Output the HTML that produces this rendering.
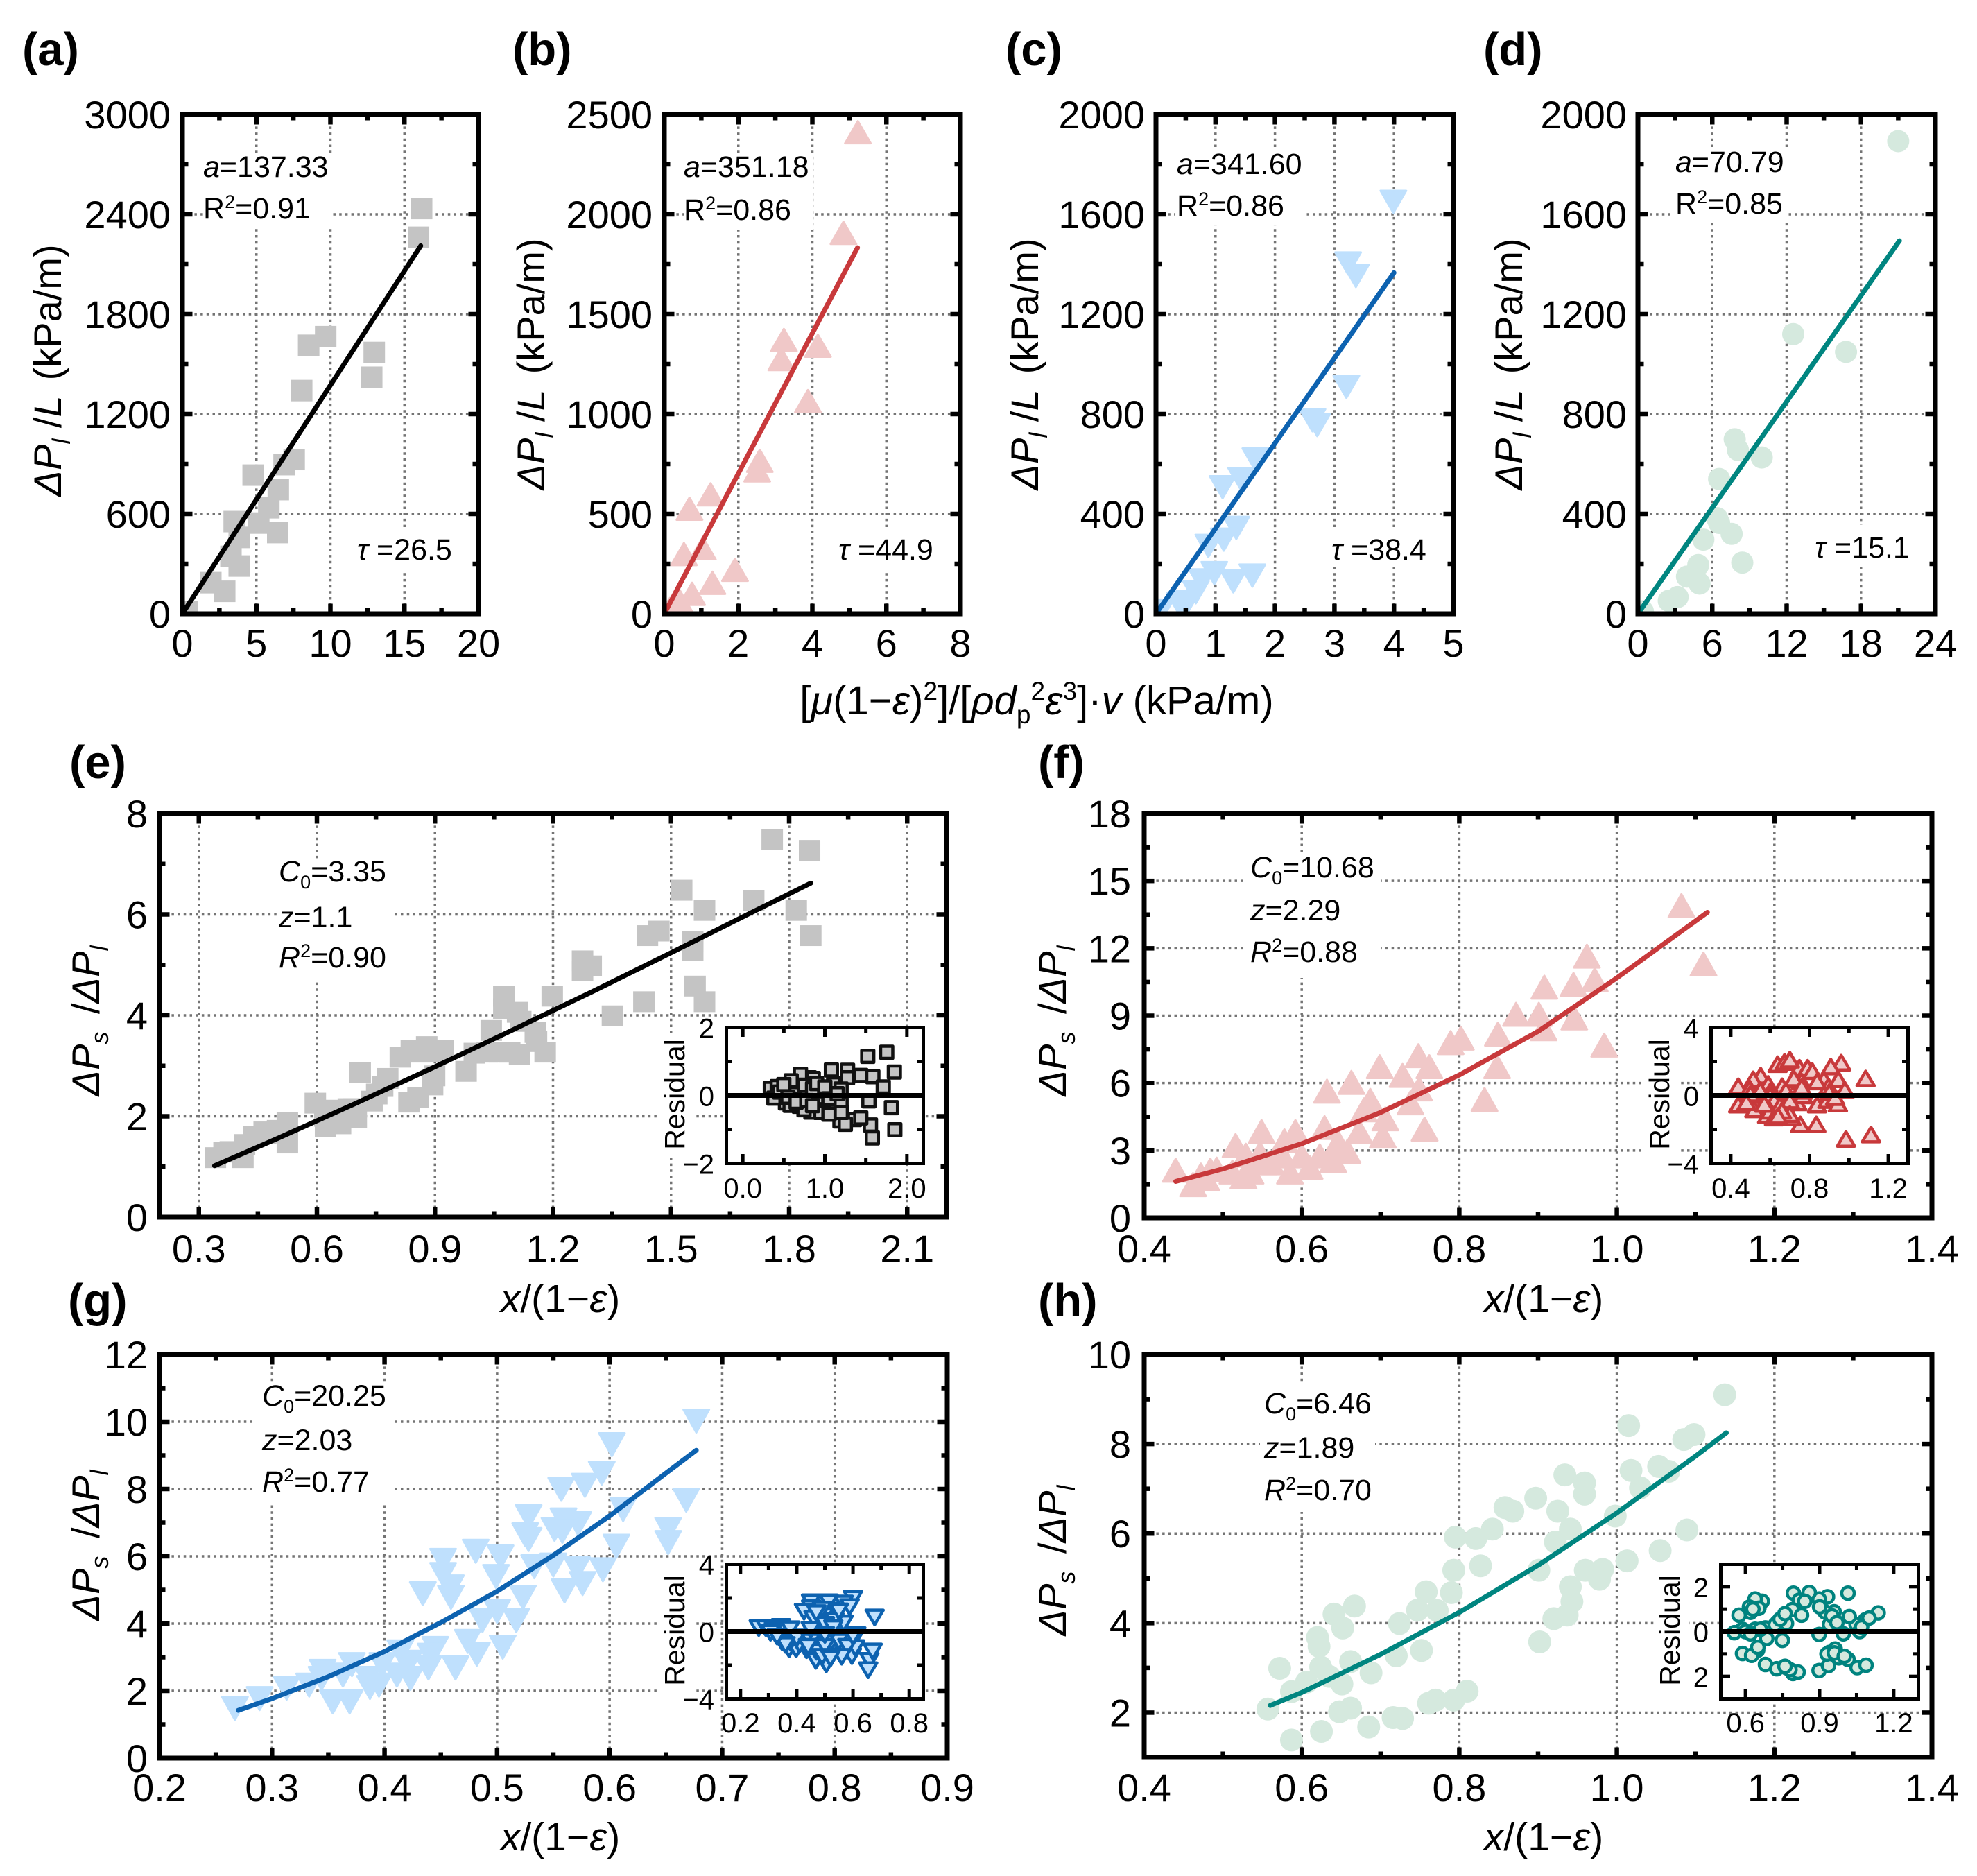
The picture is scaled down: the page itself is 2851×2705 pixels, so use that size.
<!DOCTYPE html>
<html lang="en">
<head>
<meta charset="utf-8">
<title>Pressure drop fits</title>
<style>
html,body{margin:0;padding:0;background:#fff;}
svg{display:block;font-family:"Liberation Sans",Arial,sans-serif;}
.pl{font-weight:bold;font-size:67px;}
.ti{font-size:56px;}
.an{font-size:43px;}
.re{font-size:41px;}
.it{font-style:italic;}
</style>
</head>
<body>
<svg id="figure" xmlns="http://www.w3.org/2000/svg" width="2851" height="2705" viewBox="0 0 2851 2705">
<rect width="2851" height="2705" fill="#fff"/>

<text class="pl" x="32" y="94">(a)</text>
<text class="pl" x="739" y="94">(b)</text>
<text class="pl" x="1450" y="94">(c)</text>
<text class="pl" x="2139" y="94">(d)</text>
<text class="pl" x="100" y="1122">(e)</text>
<text class="pl" x="1497" y="1122">(f)</text>
<text class="pl" x="98" y="1898">(g)</text>
<text class="pl" x="1497" y="1898">(h)</text>

<!-- Panel a -->
<g id="a-plot"></g>
<rect x="293" y="224" width="187" height="106" fill="#fff"/>
<rect x="510" y="760" width="147" height="60" fill="#fff"/>
<text class="an" x="293" y="255"><tspan class="it">a</tspan>=137.33</text>
<text class="an" x="293" y="315">R<tspan font-size="27" dy="-15">2</tspan><tspan dy="15">=0.91</tspan></text>
<text class="an" x="515" y="807"><tspan class="it">τ</tspan> =26.5</text>
<text class="ti" transform="translate(88,534) rotate(-90)" text-anchor="middle"><tspan class="it">ΔP</tspan><tspan class="it" font-size="36" dy="13">l</tspan><tspan dy="-13"> /</tspan><tspan class="it">L</tspan><tspan dx="22">(kPa/m)</tspan></text>

<!-- Panel b -->
<g id="b-plot"></g>
<rect x="987" y="224" width="185" height="107" fill="#fff"/>
<rect x="1205" y="760" width="145" height="60" fill="#fff"/>
<text class="an" x="986" y="255"><tspan class="it">a</tspan>=351.18</text>
<text class="an" x="986" y="317">R<tspan font-size="27" dy="-15">2</tspan><tspan dy="15">=0.86</tspan></text>
<text class="an" x="1209" y="807"><tspan class="it">τ</tspan> =44.9</text>
<text class="ti" transform="translate(785,525) rotate(-90)" text-anchor="middle"><tspan class="it">ΔP</tspan><tspan class="it" font-size="36" dy="13">l</tspan><tspan dy="-13"> /</tspan><tspan class="it">L</tspan><tspan dx="22">(kPa/m)</tspan></text>

<!-- Panel c -->
<g id="c-plot"></g>
<rect x="1695" y="215" width="188" height="110" fill="#fff"/>
<rect x="1915" y="760" width="150" height="56" fill="#fff"/>
<text class="an" x="1697" y="251"><tspan class="it">a</tspan>=341.60</text>
<text class="an" x="1697" y="311">R<tspan font-size="27" dy="-15">2</tspan><tspan dy="15">=0.86</tspan></text>
<text class="an" x="1920" y="807"><tspan class="it">τ</tspan> =38.4</text>
<text class="ti" transform="translate(1497,525) rotate(-90)" text-anchor="middle"><tspan class="it">ΔP</tspan><tspan class="it" font-size="36" dy="13">l</tspan><tspan dy="-13"> /</tspan><tspan class="it">L</tspan><tspan dx="22">(kPa/m)</tspan></text>

<!-- Panel d -->
<g id="d-plot"></g>
<rect x="2414" y="212" width="164" height="110" fill="#fff"/>
<rect x="2613" y="757" width="145" height="56" fill="#fff"/>
<text class="an" x="2416" y="248"><tspan class="it">a</tspan>=70.79</text>
<text class="an" x="2416" y="308">R<tspan font-size="27" dy="-15">2</tspan><tspan dy="15">=0.85</tspan></text>
<text class="an" x="2617" y="804"><tspan class="it">τ</tspan> =15.1</text>
<text class="ti" transform="translate(2195,525) rotate(-90)" text-anchor="middle"><tspan class="it">ΔP</tspan><tspan class="it" font-size="36" dy="13">l</tspan><tspan dy="-13"> /</tspan><tspan class="it">L</tspan><tspan dx="22">(kPa/m)</tspan></text>

<text class="ti" x="1495" y="1030" text-anchor="middle" style="font-size:58px">[<tspan class="it">μ</tspan>(1−<tspan class="it">ε</tspan>)<tspan font-size="37" dy="-21">2</tspan><tspan dy="21">]/[</tspan><tspan class="it">ρd</tspan><tspan font-size="37" dy="13">p</tspan><tspan font-size="37" dy="-34">2</tspan><tspan class="it" dy="21">ε</tspan><tspan font-size="37" dy="-21">3</tspan><tspan dy="21">]·</tspan><tspan class="it">v</tspan> (kPa/m)</text>

<!-- Panel e -->
<g id="e-plot"></g>
<rect x="400" y="1240" width="165" height="175" fill="#fff"/>
<text class="an" x="402" y="1271"><tspan class="it">C</tspan><tspan font-size="27" dy="10">0</tspan><tspan dy="-10">=3.35</tspan></text>
<text class="an" x="402" y="1337"><tspan class="it">z</tspan>=1.1</text>
<text class="an" x="402" y="1395"><tspan class="it">R</tspan><tspan font-size="27" dy="-15">2</tspan><tspan dy="15">=0.90</tspan></text>
<text class="ti" transform="translate(143,1472) rotate(-90)" text-anchor="middle"><tspan class="it">ΔP</tspan><tspan class="it" font-size="36" dy="13">s</tspan><tspan dy="-13" dx="10"> /</tspan><tspan class="it">ΔP</tspan><tspan class="it" font-size="36" dy="13">l</tspan></text>
<text class="ti" x="808" y="1892" text-anchor="middle" style="font-size:57px"><tspan class="it">x</tspan>/(1−<tspan class="it">ε</tspan>)</text>
<rect x="950" y="1490" width="50" height="180" fill="#fff"/>
<g id="e-inset"></g>
<text class="re" transform="translate(987,1578) rotate(-90)" text-anchor="middle">Residual</text>

<!-- Panel f -->
<g id="f-plot"></g>
<rect x="1795" y="1230" width="196" height="180" fill="#fff"/>
<text class="an" x="1803" y="1265"><tspan class="it">C</tspan><tspan font-size="27" dy="10">0</tspan><tspan dy="-10">=10.68</tspan></text>
<text class="an" x="1803" y="1327"><tspan class="it">z</tspan>=2.29</text>
<text class="an" x="1803" y="1387"><tspan class="it">R</tspan><tspan font-size="27" dy="-15">2</tspan><tspan dy="15">=0.88</tspan></text>
<text class="ti" transform="translate(1537,1472) rotate(-90)" text-anchor="middle"><tspan class="it">ΔP</tspan><tspan class="it" font-size="36" dy="13">s</tspan><tspan dy="-13" dx="10"> /</tspan><tspan class="it">ΔP</tspan><tspan class="it" font-size="36" dy="13">l</tspan></text>
<text class="ti" x="2226" y="1892" text-anchor="middle" style="font-size:57px"><tspan class="it">x</tspan>/(1−<tspan class="it">ε</tspan>)</text>
<rect x="2370" y="1490" width="50" height="180" fill="#fff"/>
<g id="f-inset"></g>
<text class="re" transform="translate(2407,1578) rotate(-90)" text-anchor="middle">Residual</text>

<!-- Panel g -->
<g id="g-plot"></g>
<rect x="365" y="1995" width="200" height="175" fill="#fff"/>
<text class="an" x="378" y="2027"><tspan class="it">C</tspan><tspan font-size="27" dy="10">0</tspan><tspan dy="-10">=20.25</tspan></text>
<text class="an" x="378" y="2091"><tspan class="it">z</tspan>=2.03</text>
<text class="an" x="378" y="2151"><tspan class="it">R</tspan><tspan font-size="27" dy="-15">2</tspan><tspan dy="15">=0.77</tspan></text>
<text class="ti" transform="translate(143,2228) rotate(-90)" text-anchor="middle"><tspan class="it">ΔP</tspan><tspan class="it" font-size="36" dy="13">s</tspan><tspan dy="-13" dx="10"> /</tspan><tspan class="it">ΔP</tspan><tspan class="it" font-size="36" dy="13">l</tspan></text>
<text class="ti" x="808" y="2668" text-anchor="middle" style="font-size:57px"><tspan class="it">x</tspan>/(1−<tspan class="it">ε</tspan>)</text>
<rect x="950" y="2262" width="50" height="180" fill="#fff"/>
<g id="g-inset"></g>
<text class="re" transform="translate(987,2351) rotate(-90)" text-anchor="middle">Residual</text>

<!-- Panel h -->
<g id="h-plot"></g>
<rect x="1817" y="1992" width="166" height="188" fill="#fff"/>
<text class="an" x="1823" y="2038"><tspan class="it">C</tspan><tspan font-size="27" dy="10">0</tspan><tspan dy="-10">=6.46</tspan></text>
<text class="an" x="1823" y="2102"><tspan class="it">z</tspan>=1.89</text>
<text class="an" x="1823" y="2163"><tspan class="it">R</tspan><tspan font-size="27" dy="-15">2</tspan><tspan dy="15">=0.70</tspan></text>
<text class="ti" transform="translate(1537,2250) rotate(-90)" text-anchor="middle"><tspan class="it">ΔP</tspan><tspan class="it" font-size="36" dy="13">s</tspan><tspan dy="-13" dx="10"> /</tspan><tspan class="it">ΔP</tspan><tspan class="it" font-size="36" dy="13">l</tspan></text>
<text class="ti" x="2226" y="2668" text-anchor="middle" style="font-size:57px"><tspan class="it">x</tspan>/(1−<tspan class="it">ε</tspan>)</text>
<rect x="2385" y="2262" width="50" height="180" fill="#fff"/>
<g id="h-inset"></g>
<text class="re" transform="translate(2422,2351) rotate(-90)" text-anchor="middle">Residual</text>
</svg>

<script>
// ---------- Panel a ----------
const aX = [16.16,15.95,9.68,8.53,8.06,12.96,12.79,7.55,6.87,4.78,6.48,5.84,6.44,5.16,3.50,3.84,3.28,3.84,1.92,2.86,0.34];
const aY = [2435,2262,1665,1613,1341,1570,1421,927,896,833,746,637,488,545,554,459,345,287,187,135,14];
const aFitX = [0,16.1];
const aFitY = [0,2211];
const aXTicks = ['0','5','10','15','20'];
const aYTicks = ['0','600','1200','1800','2400','3000'];

// ---------- Panel b ----------
const bX = [5.23,4.84,3.23,3.16,4.15,3.88,2.58,2.51,1.25,0.68,1.04,0.53,1.91,1.30,0.75,0.41,0.15];
const bY = [2411,1907,1371,1275,1342,1065,766,718,598,526,328,299,220,155,100,65,24];
const bFitX = [0,5.22];
const bFitY = [0,1833];
const bXTicks = ['0','2','4','6','8'];
const bYTicks = ['0','500','1000','1500','2000','2500'];

// ---------- Panel c ----------
const cX = [3.99,3.23,3.36,3.2,2.63,2.71,1.67,1.43,1.12,1.35,1.14,0.88,1.62,1.3,0.98,0.77,0.67,0.53,0.40,0.08];
const cY = [1650,1403,1353,909,775,756,618,540,507,344,297,272,153,130,163,134,86,48,38,13];
const cFitX = [0,4.0];
const cFitY = [0,1366];
const cXTicks = ['0','1','2','3','4','5'];
const cYTicks = ['0','400','800','1200','1600','2000'];

// ---------- Panel d ----------
const dX = [21.0,12.53,16.79,7.81,8.07,9.99,6.55,6.39,6.55,7.56,5.28,8.42,4.87,3.96,4.97,3.2,2.49,0.4];
const dY = [1893,1120,1049,699,656,626,540,383,364,320,297,205,195,149,121,67,52,10];
const dFitX = [0,21.1];
const dFitY = [0,1494];
const dXTicks = ['0','6','12','18','24'];
const dYTicks = ['0','400','800','1200','1600','2000'];

// ---------- Panel e ----------
const eX = [1.757,1.852,1.527,1.585,1.71,1.818,1.855,1.469,1.44,1.555,1.555,1.561,1.585,1.431,1.351,1.275,1.297,1.275,1.198,1.075,1.075,1.11,1.118,1.043,1.155,1.158,1.18,1.115,1.065,1.033,0.979,0.921,0.879,0.861,0.812,0.899,0.894,0.71,0.767,0.752,0.857,0.834,0.693,0.70,0.648,0.622,0.596,0.525,0.525,0.466,0.416,0.412,0.364,0.342,0.84,0.905,1.09,1.0,0.38,0.44,0.47,0.5,0.62,0.66,0.68,0.78,0.74];
const eY = [7.48,7.27,6.48,6.08,6.27,6.08,5.58,5.67,5.58,5.47,5.28,4.58,4.27,4.27,3.99,5.08,4.98,4.88,4.38,4.38,4.13,4.06,3.88,3.70,3.66,3.48,3.27,3.22,3.27,3.27,2.89,3.30,3.38,3.27,3.17,2.80,2.62,2.87,2.59,2.44,2.37,2.28,2.15,1.97,2.12,1.80,2.26,1.87,1.47,1.69,1.44,1.18,1.29,1.18,3.3,3.28,3.27,3.25,1.3,1.6,1.65,1.72,2.0,1.85,2.15,2.75,2.3];
const eFitX = [0.34,0.5,0.7,0.9,1.1,1.3,1.5,1.7,1.855];
const eFitY = [1.02,1.56,2.26,2.98,3.72,4.47,5.24,6.02,6.62];
const eXTicks = ['0.3','0.6','0.9','1.2','1.5','1.8','2.1'];
const eYTicks = ['0','2','4','6','8'];
const eResX = [1.754,1.523,1.847,1.08,1.277,1.277,1.107,1.438,1.585,1.712,0.811,0.703,0.59,0.477,0.336,0.42,0.859,0.958,0.746,0.633,1.198,1.537,1.811,1.853,1.556,1.579,1.362,1.184,1.113,0.901,0.83,0.689,0.605,0.52,0.379,1.056,1.198,1.438,0.746,0.576,0.986,0.45,0.55,0.65,0.75,0.85,0.9,1.0,1.05,1.15,0.78,0.95,1.25,1.2,1.05,0.5,0.85];
const eResY = [1.27,1.15,0.69,0.75,0.74,0.52,0.34,0.59,0.55,0.25,0.52,0.62,0.43,0.19,0.21,0.26,0.5,0.16,0.05,0.05,0.19,-0.16,-0.36,-1.01,-0.87,-1.25,-0.71,-0.75,-0.49,-0.22,-0.49,-0.32,-0.12,-0.22,-0.08,-0.29,-0.25,-0.66,-0.42,-0.29,-0.42,0.1,-0.05,-0.2,0.3,0.2,0.35,0.25,-0.1,0.05,-0.15,-0.5,-0.85,-0.5,-0.55,0.32,-0.3];
const eResXTicks = ['0.0','1.0','2.0'];
const eResYTicks = ['−2','0','2'];

// ---------- Panel f ----------
const fX = [1.082,1.11,0.962,0.972,0.908,0.945,0.901,0.872,0.946,0.907,0.984,0.849,0.802,0.789,0.848,0.832,0.44,0.462,0.472,0.484,0.492,0.516,0.529,0.526,0.535,0.479,0.512,0.549,0.561,0.578,0.592,0.585,0.61,0.629,0.632,0.663,0.699,0.687,0.679,0.728,0.748,0.762,0.749,0.738,0.706,0.673,0.703,0.756,0.64,0.623,0.658,0.646,0.6,0.576,0.552,0.547,0.64];
const fY = [13.9,11.3,11.65,10.6,10.27,10.39,9.06,9.06,8.9,8.42,7.69,8.18,8.0,7.8,6.73,5.27,2.12,1.48,1.91,2.13,2.17,3.22,2.79,1.83,2.04,1.73,2.04,3.84,2.45,3.43,3.84,2.04,2.25,4.02,5.64,6.03,6.73,5.23,4.81,6.34,7.22,6.73,5.74,5.12,4.41,3.84,3.64,3.95,2.96,2.76,2.96,3.37,2.76,2.76,2.45,2.86,2.56];
const fFitX = [0.44,0.5,0.6,0.7,0.8,0.9,1.0,1.05,1.115];
const fFitY = [1.62,2.18,3.30,4.69,6.36,8.30,10.68,11.95,13.6];
const fXTicks = ['0.4','0.6','0.8','1.0','1.2','1.4'];
const fYTicks = ['0','3','6','9','12','15','18'];
const fResX = [1.085,1.112,0.985,0.961,0.908,0.753,0.834,0.749,0.638,0.673,0.7,0.79,0.814,0.946,0.758,0.72,0.661,0.552,0.514,0.59,0.438,0.496,0.542,0.602,0.873,0.896,0.979,0.838,0.891,0.944,0.738,0.685,0.579,0.514,0.461,0.438,0.52,0.585,0.64,0.685,0.708,0.626,0.673,0.767,0.767,0.838,0.55,0.6,0.62,0.65,0.6,0.68,0.7,0.57,0.5,0.48,0.72,0.76,0.9,0.93,0.62,0.7,0.66,0.64];
const fResY = [1.0,-2.3,-2.56,1.93,1.7,-1.7,-1.7,1.63,1.84,1.97,2.1,1.63,1.43,0.95,0.84,0.95,0.54,1.16,0.95,0.68,0.54,0.41,0.2,0.27,0.95,0.54,0.34,-0.54,-0.27,-0.48,-0.41,-0.14,-0.14,-0.34,-0.34,-0.54,-0.82,-1.16,-1.09,-1.09,-1.29,-0.75,-0.54,0,0.27,0.82,0.3,0,-0.3,-0.6,-0.9,0.3,-0.3,-0.5,0.1,-0.4,1.0,0.5,0.2,-0.1,-1.3,-1.1,-0.9,-1.2];
const fResXTicks = ['0.4','0.8','1.2'];
const fResYTicks = ['−4','0','4'];

// ---------- Panel g ----------
const gX = [0.677,0.602,0.593,0.668,0.578,0.557,0.612,0.652,0.652,0.606,0.559,0.572,0.551,0.558,0.533,0.55,0.571,0.594,0.576,0.56,0.267,0.289,0.313,0.333,0.345,0.344,0.354,0.369,0.371,0.363,0.387,0.395,0.398,0.385,0.411,0.423,0.414,0.422,0.439,0.445,0.441,0.463,0.474,0.482,0.505,0.487,0.5,0.517,0.523,0.434,0.459,0.459,0.452,0.452,0.481,0.503,0.499,0.528,0.525,0.528];
const gY = [10.02,9.32,8.47,7.67,8.11,7.99,7.39,6.8,6.41,6.3,7.08,6.97,6.8,6.74,5.69,5.74,5.63,5.6,5.19,4.97,1.48,1.77,2.08,2.17,2.58,2.37,1.67,1.67,2.78,2.47,2.1,2.17,2.78,2.37,2.47,2.37,3.16,2.85,2.68,3.26,3.06,2.68,3.47,3.09,3.3,4.09,4.36,4.09,4.78,4.89,4.78,5.09,5.88,5.46,6.15,5.98,5.4,7.18,6.64,6.5];
const gFitX = [0.27,0.3,0.35,0.4,0.45,0.5,0.55,0.6,0.65,0.677];
const gFitY = [1.42,1.77,2.42,3.17,4.03,4.96,6.03,7.20,8.47,9.15];
const gXTicks = ['0.2','0.3','0.4','0.5','0.6','0.7','0.8','0.9'];
const gYTicks = ['0','2','4','6','8','10','12'];
const gResX = [0.677,0.6,0.567,0.451,0.521,0.588,0.513,0.451,0.426,0.46,0.497,0.567,0.534,0.265,0.29,0.344,0.377,0.319,0.307,0.418,0.493,0.612,0.542,0.348,0.373,0.398,0.435,0.468,0.505,0.517,0.596,0.658,0.654,0.67,0.571,0.484,0.608,0.41,0.377,0.521,0.4,0.45,0.47,0.5,0.55,0.58,0.6,0.45,0.5,0.53,0.55,0.49,0.47,0.56,0.49,0.52,0.44,0.5,0.36,0.33];
const gResY = [0.84,1.95,1.67,1.74,1.25,1.46,1.74,1.39,1.18,0.77,0.91,0.49,0.63,0.21,0.21,0.28,0.14,0.07,-0.07,-0.35,-0.21,-0.21,-0.28,-0.63,-1.05,-1.05,-1.11,-1.74,-1.95,-1.18,-1.46,-1.74,-2.3,-1.18,-1.05,-0.77,-0.98,-0.77,-0.63,-0.7,-0.4,-0.6,-1.2,-0.9,-0.6,-0.9,-0.3,0.1,0.4,0.2,1.2,1.3,1.1,-1.5,-1.5,-1.6,-0.9,-0.2,-0.8,-0.3];
const gResXTicks = ['0.2','0.4','0.6','0.8'];
const gResYTicks = ['−4','0','4'];

// ---------- Panel h ----------
const hX = [1.137,1.015,1.098,1.085,1.018,1.053,1.066,1.03,0.934,0.959,0.959,0.897,0.925,0.858,0.868,0.842,0.941,0.998,1.089,1.055,1.013,0.795,0.821,0.922,0.827,0.793,0.901,0.96,0.982,0.978,0.941,0.943,0.937,0.92,0.902,0.79,0.758,0.747,0.772,0.724,0.667,0.641,0.652,0.62,0.622,0.752,0.72,0.662,0.688,0.624,0.572,0.635,0.651,0.606,0.587,0.557,0.587,0.625,0.648,0.662,0.685,0.716,0.728,0.761,0.77,0.793,0.81];
const hY = [9.1,8.41,8.21,8.1,7.41,7.5,7.39,7.02,7.31,7.13,6.88,6.79,6.5,6.58,6.5,6.1,6.1,6.39,6.08,5.62,5.39,5.92,5.89,5.81,5.28,5.18,5.18,5.18,5.2,4.98,4.81,4.48,4.18,4.1,3.58,4.68,4.7,4.29,4.28,3.99,4.38,4.2,3.89,3.68,3.48,3.39,3.27,3.14,2.89,3.02,2.99,2.81,2.64,2.68,2.47,2.08,1.39,1.58,2.02,2.1,1.68,1.89,1.87,2.21,2.28,2.28,2.48];
const hFitX = [0.56,0.6,0.7,0.8,0.9,1.0,1.1,1.139];
const hFitY = [2.16,2.45,3.30,4.24,5.29,6.46,7.73,8.25];
const hXTicks = ['0.4','0.6','0.8','1.0','1.2','1.4'];
const hYTicks = ['2','4','6','8','10'];
const hResX = [1.015,1.137,1.085,1.048,1.02,0.959,0.932,0.898,0.858,0.794,0.818,0.79,0.827,0.747,0.729,0.766,0.94,0.921,0.621,0.574,0.668,0.639,0.654,0.616,0.639,0.588,0.555,0.681,0.898,0.996,1.062,0.686,0.749,0.649,0.588,0.625,0.681,0.726,0.766,0.792,0.813,0.898,0.936,0.94,0.978,0.963,1.015,1.052,1.088,0.63,0.66,0.6,0.62,0.72,0.74,0.76,0.84,0.9,0.95,0.97,0.65,0.78,0.76,1.07,1.1,0.93,0.96,1.0];
const hResY = [1.71,0.83,0.52,0.31,0.67,0.88,1.55,1.45,1.74,1.71,1.4,0.98,0.73,0.55,0.41,0.36,0.31,0.88,0.86,0.73,1.35,1.45,1.04,1.09,0.1,0.1,-0.05,0.16,-0.13,-0.1,0,-0.31,-0.39,-0.83,-0.98,-1.06,-1.47,-1.66,-1.61,-1.87,-1.81,-1.74,-1.52,-0.93,-1.17,-0.78,-1.24,-1.61,-1.5,1.0,0.1,0.0,-0.1,0.3,0.55,0.8,1.35,1.1,0.7,0.4,-0.7,-1.7,-1.55,0.2,0.6,-1.0,-0.95,-1.1];
const hResXTicks = ['0.6','0.9','1.2'];
const hResYTickValues = [-2,0,2];
const hResYTicks = ['2','0','2'];

const SVGNS = 'http://www.w3.org/2000/svg';

function mk(parent, tag, attrs, name) {
  const el = document.createElementNS(SVGNS, tag);
  for (const k in attrs) el.setAttribute(k, attrs[k]);
  
  
  parent.appendChild(el);
  return el;
}

function num(s) { return parseFloat(String(s).replace('−', '-')); }

function minorOf(values, lo, hi) {
  const step = values[1] - values[0];
  const out = [];
  const n = Math.ceil((hi - lo) / (step / 2)) + 4;
  for (let i = -n; i <= n; i++) {
    const v = values[0] + i * step / 2;
    if (v < lo - 1e-9 || v > hi + 1e-9) continue;
    if (i % 2 !== 0) out.push(v);
  }
  return out;
}

function marker(g, shape, px, py, w, h, fill, stroke, sw, name) {
  const st = { fill: fill };
  if (stroke) { st.stroke = stroke; st['stroke-width'] = sw; st['stroke-linejoin'] = 'round'; }
  if (shape === 'square') {
    return mk(g, 'rect', Object.assign({ x: px - w / 2, y: py - h / 2, width: w, height: h }, st), name);
  }
  if (shape === 'circle') {
    return mk(g, 'circle', Object.assign({ cx: px, cy: py, r: w / 2 }, st), name);
  }
  const dir = shape === 'up' ? 1 : -1;
  const pts = [[px, py - dir * h / 2], [px + w / 2, py + dir * h / 2], [px - w / 2, py + dir * h / 2]];
  return mk(g, 'polygon', Object.assign({ points: pts.map(p => p.join(',')).join(' ') }, st), name);
}

function axisFns(c) {
  return {
    sx: v => c.l + (v - c.x0) / (c.x1 - c.x0) * (c.r - c.l),
    sy: v => c.b - (v - c.y0) / (c.y1 - c.y0) * (c.b - c.t)
  };
}

function ticks(g, c, sx, sy, xVals, yVals, majorLen, minorLen, tw) {
  const xMin = minorOf(xVals, c.x0, c.x1);
  const yMin = minorOf(yVals, c.y0, c.y1);
  const draw = function (x1, y1, x2, y2, name) {
    mk(g, 'line', { x1: x1, y1: y1, x2: x2, y2: y2, stroke: '#000', 'stroke-width': tw }, name);
  };
  xVals.forEach(v => {
    draw(sx(v), c.b, sx(v), c.b - majorLen, 'x-major-tick');
    draw(sx(v), c.t, sx(v), c.t + majorLen, 'x-major-tick-top');
  });
  xMin.forEach(v => {
    draw(sx(v), c.b, sx(v), c.b - minorLen, 'x-minor-tick');
    draw(sx(v), c.t, sx(v), c.t + minorLen, 'x-minor-tick-top');
  });
  yVals.forEach(v => {
    draw(c.l, sy(v), c.l + majorLen, sy(v), 'y-major-tick');
    draw(c.r, sy(v), c.r - majorLen, sy(v), 'y-major-tick-right');
  });
  yMin.forEach(v => {
    draw(c.l, sy(v), c.l + minorLen, sy(v), 'y-minor-tick');
    draw(c.r, sy(v), c.r - minorLen, sy(v), 'y-minor-tick-right');
  });
}

function drawMain(id, c, xs, ys, fitX, fitY, xTicks, yTicks) {
  const g = document.getElementById(id);
  const a = axisFns(c);
  const xVals = xTicks.map(num);
  const yVals = yTicks.map(num);

  const clip = mk(g, 'clipPath', { id: id + '-clip' }, 'plot-clip');
  mk(clip, 'rect', { x: c.l, y: c.t, width: c.r - c.l, height: c.b - c.t }, 'plot-clip-area');

  xVals.forEach(v => {
    if (Math.abs(v - c.x0) < 1e-9 || Math.abs(v - c.x1) < 1e-9) return;
    mk(g, 'line', { x1: a.sx(v), y1: c.t, x2: a.sx(v), y2: c.b, stroke: '#747474', 'stroke-width': 3.5, 'stroke-dasharray': '3.5 5.2' }, 'vertical-gridline');
  });
  yVals.forEach(v => {
    if (Math.abs(v - c.y0) < 1e-9 || Math.abs(v - c.y1) < 1e-9) return;
    mk(g, 'line', { x1: c.l, y1: a.sy(v), x2: c.r, y2: a.sy(v), stroke: '#747474', 'stroke-width': 3.5, 'stroke-dasharray': '3.5 5.2' }, 'horizontal-gridline');
  });

  const marks = mk(g, 'g', { 'clip-path': 'url(#' + id + '-clip)' }, 'marks');
  xs.forEach((x, i) => {
    marker(marks, c.shape, a.sx(x), a.sy(ys[i]), c.mw, c.mh, c.fill, c.fill, c.msw, 'data-point');
  });

  const d = fitX.map((x, i) => a.sx(x) + ',' + a.sy(fitY[i])).join(' ');
  mk(marks, 'polyline', { points: d, fill: 'none', stroke: c.line, 'stroke-width': 7, 'stroke-linejoin': 'round', 'stroke-linecap': 'round' }, 'fit-line');

  ticks(g, c, a.sx, a.sy, xVals, yVals, 14.5, 8.5, 6.5);
  mk(g, 'rect', { x: c.l, y: c.t, width: c.r - c.l, height: c.b - c.t, fill: 'none', stroke: '#000', 'stroke-width': 7 }, 'plot-frame');

  xTicks.forEach((t, i) => {
    const el = mk(g, 'text', { x: a.sx(xVals[i]), y: c.xb, 'text-anchor': 'middle', 'font-size': 56 }, 'x-tick-label');
    el.textContent = t;
  });
  yTicks.forEach((t, i) => {
    const el = mk(g, 'text', { x: c.yr, y: a.sy(yVals[i]) + 20, 'text-anchor': 'end', 'font-size': 56 }, 'y-tick-label');
    el.textContent = t;
  });
}

function drawInset(id, c, xs, ys, xTicks, yTicks, yVals) {
  const g = document.getElementById(id);
  const a = axisFns(c);
  const xVals = xTicks.map(num);
  mk(g, 'rect', { x: c.l, y: c.t, width: c.r - c.l, height: c.b - c.t, fill: '#fff' }, 'inset-background');
  xs.forEach((x, i) => {
    marker(g, c.shape, a.sx(x), a.sy(ys[i]), c.mw, c.mh, c.fill, c.stroke, 4.5, 'residual-point');
  });
  ticks(g, c, a.sx, a.sy, xVals, c.yTickVals, 13.5, 8.5, 5);
  mk(g, 'line', { x1: c.l, y1: a.sy(0), x2: c.r, y2: a.sy(0), stroke: '#000', 'stroke-width': 7 }, 'zero-line');
  mk(g, 'rect', { x: c.l, y: c.t, width: c.r - c.l, height: c.b - c.t, fill: 'none', stroke: '#000', 'stroke-width': 5 }, 'inset-frame');
  xTicks.forEach((t, i) => {
    const el = mk(g, 'text', { x: a.sx(xVals[i]), y: c.xb, 'text-anchor': 'middle', 'font-size': 40 }, 'inset-x-tick-label');
    el.textContent = t;
  });
  yTicks.forEach((t, i) => {
    const el = mk(g, 'text', { x: c.yr, y: a.sy(yVals[i]) + 15, 'text-anchor': 'end', 'font-size': 40 }, 'inset-y-tick-label');
    el.textContent = t;
  });
}

const rowTop = { t: 165, b: 885, xb: 947 };
drawMain('a-plot', Object.assign({ l: 263, r: 690, x0: 0, x1: 20, y0: 0, y1: 3000, yr: 246, shape: 'square', mw: 31, mh: 31, msw: 0, fill: '#c4c4c4', line: '#000' }, rowTop), aX, aY, aFitX, aFitY, aXTicks, aYTicks);
drawMain('b-plot', Object.assign({ l: 958, r: 1385, x0: 0, x1: 8, y0: 0, y1: 2500, yr: 941, shape: 'up', mw: 37, mh: 32, msw: 3, fill: '#f0c8c8', line: '#c8393b' }, rowTop), bX, bY, bFitX, bFitY, bXTicks, bYTicks);
drawMain('c-plot', Object.assign({ l: 1667, r: 2096, x0: 0, x1: 5, y0: 0, y1: 2000, yr: 1651, shape: 'down', mw: 37, mh: 32, msw: 3, fill: '#bfe0fd', line: '#0d62b0' }, rowTop), cX, cY, cFitX, cFitY, cXTicks, cYTicks);
drawMain('d-plot', Object.assign({ l: 2362, r: 2791, x0: 0, x1: 24, y0: 0, y1: 2000, yr: 2346, shape: 'circle', mw: 32, mh: 32, msw: 0, fill: '#d5e9de', line: '#008580' }, rowTop), dX, dY, dFitX, dFitY, dXTicks, dYTicks);

drawMain('e-plot', { l: 230, r: 1365, t: 1173, b: 1755, xb: 1820, x0: 0.2, x1: 2.2, y0: 0, y1: 8, yr: 213, shape: 'square', mw: 31, mh: 30, msw: 0, fill: '#c4c4c4', line: '#000' }, eX, eY, eFitX, eFitY, eXTicks, eYTicks);
drawMain('f-plot', { l: 1650, r: 2786, t: 1173, b: 1756, xb: 1820, x0: 0.4, x1: 1.4, y0: 0, y1: 18, yr: 1631, shape: 'up', mw: 37, mh: 33, msw: 3, fill: '#f0c8c8', line: '#c8393b' }, fX, fY, fFitX, fFitY, fXTicks, fYTicks);
drawMain('g-plot', { l: 230, r: 1366, t: 1953, b: 2535, xb: 2597, x0: 0.2, x1: 0.9, y0: 0, y1: 12, yr: 213, shape: 'down', mw: 37, mh: 33, msw: 3, fill: '#bfe0fd', line: '#0d62b0' }, gX, gY, gFitX, gFitY, gXTicks, gYTicks);
drawMain('h-plot', { l: 1650, r: 2786, t: 1953, b: 2534, xb: 2597, x0: 0.4, x1: 1.4, y0: 1, y1: 10, yr: 1631, shape: 'circle', mw: 33, mh: 33, msw: 0, fill: '#d5e9de', line: '#008580' }, hX, hY, hFitX, hFitY, hXTicks, hYTicks);

drawInset('e-inset', { l: 1047.5, r: 1331.5, t: 1481.5, b: 1677.5, xb: 1727, yr: 1030, x0: -0.2, x1: 2.2, y0: -2, y1: 2, yTickVals: [-2, 0, 2], shape: 'square', mw: 17.5, mh: 17.5, fill: '#c4c4c4', stroke: '#111' }, eResX, eResY, eResXTicks, eResYTicks, [-2, 0, 2]);
drawInset('f-inset', { l: 2467.5, r: 2751.5, t: 1481.5, b: 1677.5, xb: 1727, yr: 2450, x0: 0.3, x1: 1.3, y0: -4, y1: 4, yTickVals: [-4, 0, 4], shape: 'up', mw: 25, mh: 21, fill: '#f0c8c8', stroke: '#c8393b' }, fResX, fResY, fResXTicks, fResYTicks, [-4, 0, 4]);
drawInset('g-inset', { l: 1047.5, r: 1331.5, t: 2255.5, b: 2449.5, xb: 2498, yr: 1030, x0: 0.15, x1: 0.85, y0: -4, y1: 4, yTickVals: [-4, 0, 4], shape: 'down', mw: 25, mh: 21, fill: '#bfe0fd', stroke: '#0d62b0' }, gResX, gResY, gResXTicks, gResYTicks, [-4, 0, 4]);
drawInset('h-inset', { l: 2481.5, r: 2766.5, t: 2255.5, b: 2449.5, xb: 2498, yr: 2464, x0: 0.5, x1: 1.3, y0: -3, y1: 3, yTickVals: [-2, 0, 2], shape: 'circle', mw: 18, mh: 18, fill: '#d5e9de', stroke: '#00837f' }, hResX, hResY, hResXTicks, hResYTicks, hResYTickValues);
</script>
</body>
</html>
